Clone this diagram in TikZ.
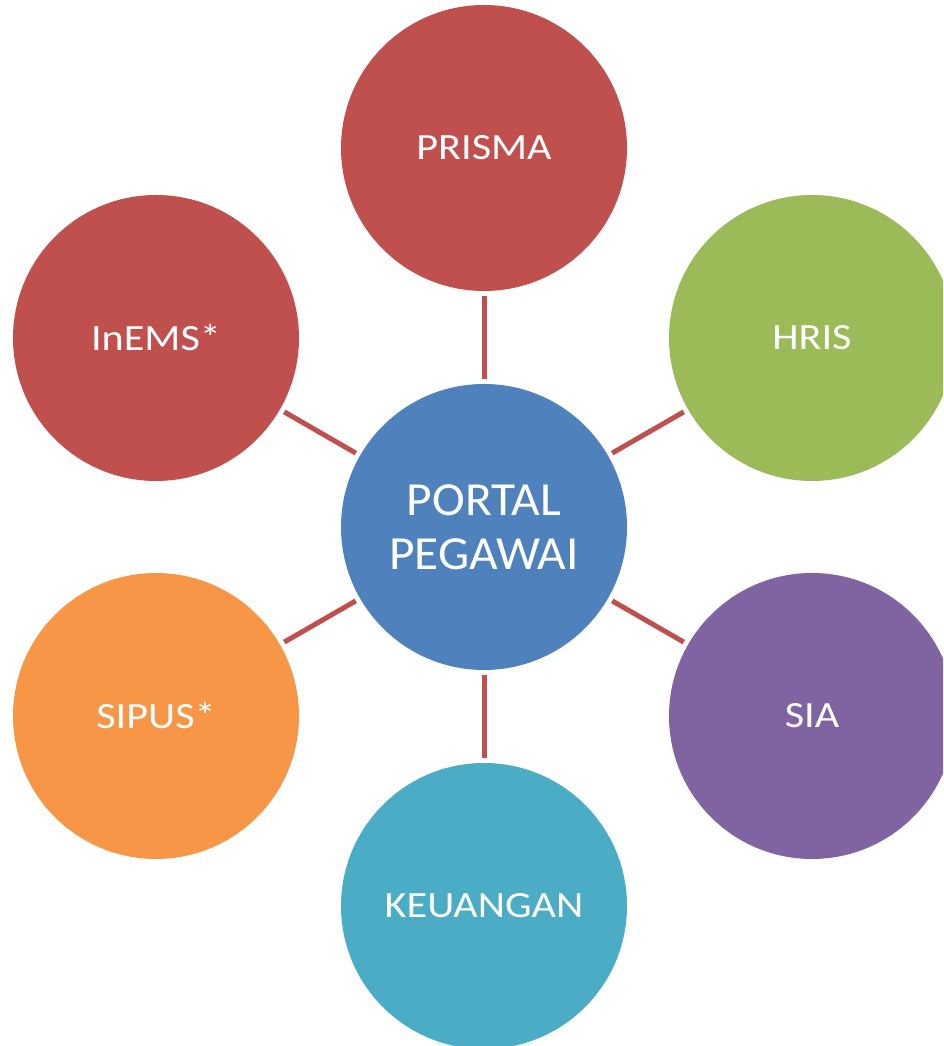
\documentclass[tikz,border=0pt]{standalone}
\usepackage{fontspec}
\setmainfont{Carlito}
\newfontfamily\sysfont[FakeStretch=1.14]{Carlito}
\newfontfamily\hubfont[FakeStretch=1.04]{Carlito}
\usetikzlibrary{positioning}

\definecolor{redsys}{HTML}{C0504D}
\definecolor{greensys}{HTML}{9BBB59}
\definecolor{purplesys}{HTML}{8064A2}
\definecolor{tealsys}{HTML}{4BACC6}
\definecolor{orangesys}{HTML}{F79646}
\definecolor{bluesys}{HTML}{4F81BD}

\begin{document}
\begin{tikzpicture}[x=1pt,y=1pt,
                    sys/.style={circle,inner sep=0pt,outer sep=0pt,minimum size=286pt,
                                text=white,font=\sysfont\fontsize{37}{44}\selectfont},
                    hub/.style={sys,fill=bluesys,align=center,
                                font=\hubfont\fontsize{47.5}{54}\selectfont},
                    link/.style={draw=redsys,line width=5pt,shorten >=5pt,shorten <=5pt}]
                    \useasboundingbox (0,0) rectangle (943,1046);
                    \clip (0,0) rectangle (943,1046);

                    \node (Portal) [hub] at (484,519) {PORTAL\\PEGAWAI};

                    \node (Prisma) [sys,fill=redsys] at (484,898) {PRISMA};
                    \node (Hris) [sys,fill=greensys] at (812,708) {HRIS};
                    \node (Sia) [sys,fill=purplesys] at (812,330) {SIA};
                    \node (Keuangan) [sys,fill=tealsys] at (484,140) {KEUANGAN};
                    \node (Sipus) [sys,fill=orangesys] at (156,330) {SIPUS*};
                    \node (Inems) [sys,fill=redsys] at (156,708) {InEMS*};

                    \foreach \n in {Prisma,Hris,Sia,Keuangan,Sipus,Inems}
                        \draw[link] (Portal) -- (\n);
\end{tikzpicture}
\end{document}
